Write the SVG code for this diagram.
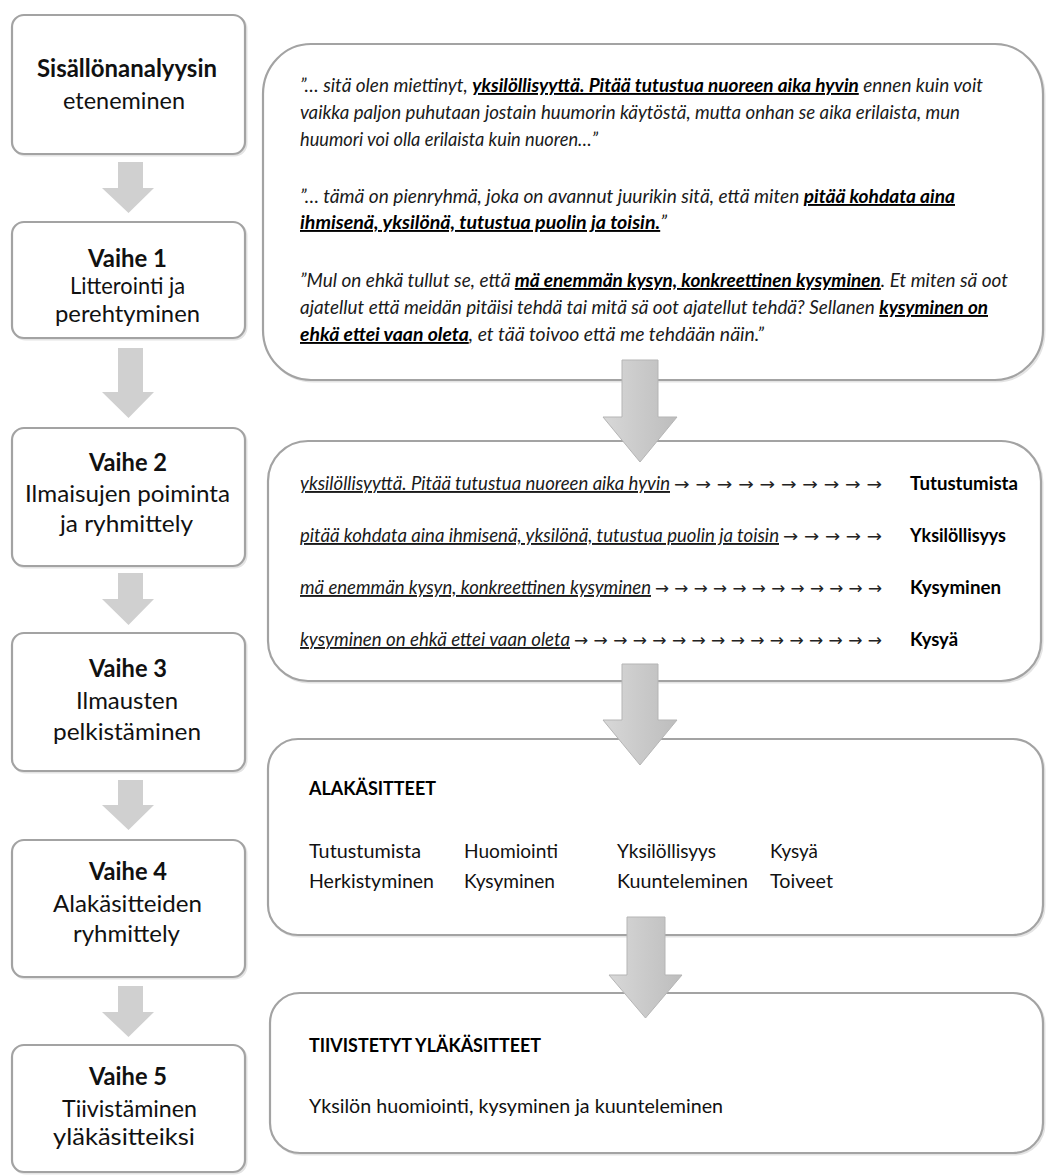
<svg xmlns="http://www.w3.org/2000/svg" width="1047" height="1175" viewBox="0 0 1047 1175">
<style>
.box{fill:#ffffff;stroke:#a3a3a3;stroke-width:2.2}
.shadow{fill:none;stroke:#e4e4e4;stroke-width:2}
.la{fill:#d0d0d0}
.ra{fill:url(#rg);stroke:#b5b5b5;stroke-width:1}
.tb{font-family:Lato,"Liberation Sans",sans-serif;font-weight:700;font-size:24px;fill:#111}
.tr{font-family:Lato,"Liberation Sans",sans-serif;font-weight:400;font-size:23px;fill:#111}
.q{font-family:Lato,"Liberation Sans",sans-serif;font-style:italic;font-weight:400;font-size:19px;fill:#1a1a1a}
.qb{font-weight:700;text-decoration:underline;fill:#000}
.qu{text-decoration:underline}
.ar{font-family:"DejaVu Sans",sans-serif;font-weight:400;font-size:17px;fill:#222}
.lb{font-family:Lato,"Liberation Sans",sans-serif;font-weight:700;font-size:19px;fill:#000}
.it{font-family:Lato,"Liberation Sans",sans-serif;font-weight:400;font-size:20px;fill:#111}
</style>
<defs>
<linearGradient id="rg" x1="0" y1="0" x2="1" y2="0">
<stop offset="0" stop-color="#d8d8d8"/>
<stop offset="0.5" stop-color="#cacaca"/>
<stop offset="1" stop-color="#bdbdbd"/>
</linearGradient>
</defs>
<rect width="1047" height="1175" fill="#ffffff"/>

<g id="step0">
<rect class="shadow" x="13.5" y="16.5" width="233" height="139" rx="12"/>
<rect class="box" x="12" y="15" width="233" height="139" rx="12"/>
<text class="tb" x="37" y="77" textLength="180" lengthAdjust="spacingAndGlyphs">Sisällönanalyysin</text>
<text class="tr" x="63" y="109" textLength="122" lengthAdjust="spacingAndGlyphs">eteneminen</text>
</g>
<g id="step1">
<rect class="shadow" x="13.5" y="223.5" width="233" height="116" rx="12"/>
<rect class="box" x="12" y="222" width="233" height="116" rx="12"/>
<text class="tb" x="88" y="267" textLength="79" lengthAdjust="spacingAndGlyphs">Vaihe 1</text>
<text class="tr" x="70" y="294" textLength="115" lengthAdjust="spacingAndGlyphs">Litterointi ja</text>
<text class="tr" x="55" y="322" textLength="145" lengthAdjust="spacingAndGlyphs">perehtyminen</text>
</g>
<g id="step2">
<rect class="shadow" x="13.5" y="429.5" width="233" height="138" rx="12"/>
<rect class="box" x="12" y="428" width="233" height="138" rx="12"/>
<text class="tb" x="89" y="471" textLength="78" lengthAdjust="spacingAndGlyphs">Vaihe 2</text>
<text class="tr" x="25" y="502" textLength="205" lengthAdjust="spacingAndGlyphs">Ilmaisujen poiminta</text>
<text class="tr" x="60" y="532" textLength="133" lengthAdjust="spacingAndGlyphs">ja ryhmittely</text>
</g>
<g id="step3">
<rect class="shadow" x="13.5" y="634.5" width="233" height="138" rx="12"/>
<rect class="box" x="12" y="633" width="233" height="138" rx="12"/>
<text class="tb" x="89" y="677" textLength="78" lengthAdjust="spacingAndGlyphs">Vaihe 3</text>
<text class="tr" x="76" y="709" textLength="102" lengthAdjust="spacingAndGlyphs">Ilmausten</text>
<text class="tr" x="53" y="740" textLength="148" lengthAdjust="spacingAndGlyphs">pelkistäminen</text>
</g>
<g id="step4">
<rect class="shadow" x="13.5" y="841.5" width="233" height="137" rx="12"/>
<rect class="box" x="12" y="840" width="233" height="137" rx="12"/>
<text class="tb" x="89" y="880" textLength="78" lengthAdjust="spacingAndGlyphs">Vaihe 4</text>
<text class="tr" x="53" y="912" textLength="149" lengthAdjust="spacingAndGlyphs">Alakäsitteiden</text>
<text class="tr" x="73" y="942" textLength="107" lengthAdjust="spacingAndGlyphs">ryhmittely</text>
</g>
<g id="step5">
<rect class="shadow" x="13.5" y="1046.5" width="233" height="127" rx="12"/>
<rect class="box" x="12" y="1045" width="233" height="127" rx="12"/>
<text class="tb" x="89" y="1085" textLength="78" lengthAdjust="spacingAndGlyphs">Vaihe 5</text>
<text class="tr" x="62" y="1117" textLength="135" lengthAdjust="spacingAndGlyphs">Tiivistäminen</text>
<text class="tr" x="53" y="1145" textLength="142" lengthAdjust="spacingAndGlyphs">yläkäsitteiksi</text>
</g>

<g id="quotes">
<rect class="shadow" x="264.5" y="45.5" width="780" height="336" rx="48" ry="50"/>
<rect class="box" x="263" y="44" width="780" height="336" rx="48" ry="50"/>
<text class="q" x="300" y="92" textLength="683" lengthAdjust="spacingAndGlyphs">”… sitä olen miettinyt, <tspan class="qb">yksilöllisyyttä. Pitää tutustua nuoreen aika hyvin</tspan> ennen kuin voit</text>
<text class="q" x="300" y="119" textLength="660" lengthAdjust="spacingAndGlyphs">vaikka paljon puhutaan jostain huumorin käytöstä, mutta onhan se aika erilaista, mun</text>
<text class="q" x="300" y="146" textLength="298" lengthAdjust="spacingAndGlyphs">huumori voi olla erilaista kuin nuoren…”</text>
<text class="q" x="300" y="203" textLength="655" lengthAdjust="spacingAndGlyphs">”… tämä on pienryhmä, joka on avannut juurikin sitä, että miten <tspan class="qb">pitää kohdata aina</tspan></text>
<text class="q" x="300" y="229" textLength="367" lengthAdjust="spacingAndGlyphs"><tspan class="qb">ihmisenä, yksilönä, tutustua puolin ja toisin.</tspan>”</text>
<text class="q" x="300" y="287" textLength="708" lengthAdjust="spacingAndGlyphs">”Mul on ehkä tullut se, että <tspan class="qb">mä enemmän kysyn, konkreettinen kysyminen</tspan>. Et miten sä oot</text>
<text class="q" x="300" y="314" textLength="688" lengthAdjust="spacingAndGlyphs">ajatellut että meidän pitäisi tehdä tai mitä sä oot ajatellut tehdä? Sellanen <tspan class="qb">kysyminen on</tspan></text>
<text class="q" x="300" y="341" textLength="464" lengthAdjust="spacingAndGlyphs"><tspan class="qb">ehkä ettei vaan oleta</tspan>, et tää toivoo että me tehdään näin.”</text>
</g>

<g id="expressions">
<rect class="shadow" x="269.5" y="442.5" width="773" height="240" rx="40"/>
<rect class="box" x="268" y="441" width="773" height="240" rx="40"/>
<text class="q" x="300" y="490" textLength="370" lengthAdjust="spacingAndGlyphs"><tspan class="qu">yksilöllisyyttä. Pitää tutustua nuoreen aika hyvin</tspan></text>
<text class="ar" x="674" y="490" textLength="208" lengthAdjust="spacingAndGlyphs">→ → → → → → → → → →</text>
<text class="lb" x="910" y="490" textLength="108" lengthAdjust="spacingAndGlyphs">Tutustumista</text>
<text class="q" x="300" y="542" textLength="479" lengthAdjust="spacingAndGlyphs"><tspan class="qu">pitää kohdata aina ihmisenä, yksilönä, tutustua puolin ja toisin</tspan></text>
<text class="ar" x="783" y="542" textLength="99" lengthAdjust="spacingAndGlyphs">→ → → → →</text>
<text class="lb" x="910" y="542" textLength="96" lengthAdjust="spacingAndGlyphs">Yksilöllisyys</text>
<text class="q" x="300" y="594" textLength="351" lengthAdjust="spacingAndGlyphs"><tspan class="qu">mä enemmän kysyn, konkreettinen kysyminen</tspan></text>
<text class="ar" x="655" y="594" textLength="227" lengthAdjust="spacingAndGlyphs">→ → → → → → → → → → → →</text>
<text class="lb" x="910" y="594" textLength="91" lengthAdjust="spacingAndGlyphs">Kysyminen</text>
<text class="q" x="300" y="646" textLength="270" lengthAdjust="spacingAndGlyphs"><tspan class="qu">kysyminen on ehkä ettei vaan oleta</tspan></text>
<text class="ar" x="574" y="646" textLength="308" lengthAdjust="spacingAndGlyphs">→ → → → → → → → → → → → → → → →</text>
<text class="lb" x="910" y="646" textLength="48" lengthAdjust="spacingAndGlyphs">Kysyä</text>
</g>

<g id="subconcepts">
<rect class="shadow" x="269.5" y="740.5" width="775" height="196" rx="30"/>
<rect class="box" x="268" y="739" width="775" height="196" rx="30"/>
<text class="lb" x="309" y="795" textLength="127" lengthAdjust="spacingAndGlyphs">ALAKÄSITTEET</text>
<text class="it" x="309" y="858" textLength="112" lengthAdjust="spacingAndGlyphs">Tutustumista</text>
<text class="it" x="464" y="858" textLength="94" lengthAdjust="spacingAndGlyphs">Huomiointi</text>
<text class="it" x="617" y="858" textLength="99" lengthAdjust="spacingAndGlyphs">Yksilöllisyys</text>
<text class="it" x="770" y="858" textLength="48" lengthAdjust="spacingAndGlyphs">Kysyä</text>
<text class="it" x="309" y="888" textLength="125" lengthAdjust="spacingAndGlyphs">Herkistyminen</text>
<text class="it" x="464" y="888" textLength="91" lengthAdjust="spacingAndGlyphs">Kysyminen</text>
<text class="it" x="617" y="888" textLength="131" lengthAdjust="spacingAndGlyphs">Kuunteleminen</text>
<text class="it" x="770" y="888" textLength="63" lengthAdjust="spacingAndGlyphs">Toiveet</text>
</g>

<g id="mainconcepts">
<rect class="shadow" x="271.5" y="994.5" width="773" height="160" rx="30"/>
<rect class="box" x="270" y="993" width="773" height="160" rx="30"/>
<text class="lb" x="309" y="1052" textLength="232" lengthAdjust="spacingAndGlyphs">TIIVISTETYT YLÄKÄSITTEET</text>
<text class="it" x="309" y="1113" textLength="414" lengthAdjust="spacingAndGlyphs">Yksilön huomiointi, kysyminen ja kuunteleminen</text>
</g>

<g id="connectors">
<polygon class="la" points="118,162 143,162 143,188 154,188 128.5,213 102,188 118,188"/>
<polygon class="la" points="118,348 143,348 143,392 154,392 128.5,418 102,392 118,392"/>
<polygon class="la" points="118,573 143,573 143,599 154,599 128.5,625 102,599 118,599"/>
<polygon class="la" points="118,780 143,780 143,805 154,805 128.5,830 102,805 118,805"/>
<polygon class="la" points="118,986 143,986 143,1012 154,1012 128.5,1037 102,1012 118,1012"/>
<polygon class="ra" points="622,360 658,360 658,417 677,417 640,462 603,417 622,417"/>
<polygon class="ra" points="622,664 658,664 658,720 677,720 640,765 603,720 622,720"/>
<polygon class="ra" points="627,917 665,917 665,975 682,975 645.5,1018 609,975 627,975"/>
</g>
</svg>
